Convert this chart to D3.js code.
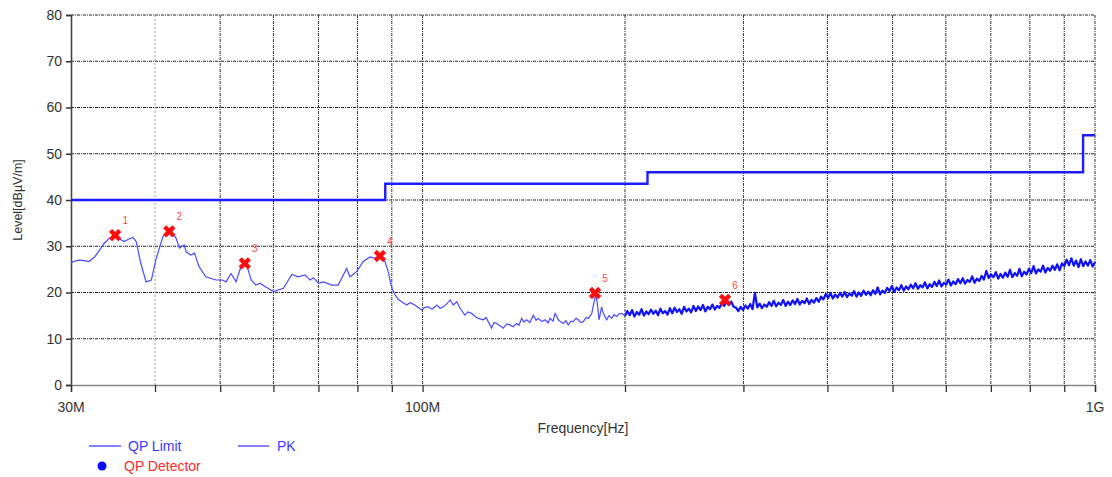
<!DOCTYPE html>
<html>
<head>
<meta charset="utf-8">
<script src="https://cdn.jsdelivr.net/npm/d3@7"></script>
<style>
  html, body { margin: 0; padding: 0; background: #fff; }
  svg { display: block; font-family: "Liberation Sans", Arial, sans-serif; }
</style>
</head>
<body>
<svg id="chart" width="1112" height="477"></svg>
<script>
// ---------------- DATA ----------------
const yTicks = [0, 10, 20, 30, 40, 50, 60, 70, 80];
const xGridFreqs = [40, 50, 60, 70, 80, 90, 100, 200, 300, 400, 500, 600, 700, 800, 900, 1000];
const xTickLabels = [[30, "30M"], [100, "100M"], [1000, "1G"]];

// QP limit (MHz, dBµV/m) – step function
const limitFreq  = [30, 88, 88, 216, 216, 960, 960, 1000];
const limitLevel = [40, 40, 43.5, 43.5, 46, 46, 54, 54];

// PK trace, low band: [MHz, dBµV/m]
const pkLow = [
  [30.0,26.4],[30.4,26.8],[30.9,27.0],[31.4,26.9],[31.9,26.7],[32.5,27.6],[33.1,29.2],[33.6,30.6],
  [34.2,31.7],[34.9,32.2],[35.6,31.4],[36.0,31.0],[36.5,31.5],[37.1,31.9],[37.5,31.0],[38.1,26.3],
  [38.8,22.3],[39.5,22.7],[40.1,27.0],[41.1,32.1],[41.8,33.2],[42.4,33.0],[43.0,31.7],[43.5,29.6],
  [44.2,30.3],[44.5,28.8],[45.2,28.1],[45.8,28.5],[46.5,25.6],[47.6,23.4],[49.3,22.7],[50.4,22.7],
  [51.0,22.3],[51.9,24.1],[52.8,22.3],[53.7,25.6],[54.4,26.5],[55.0,25.0],[55.6,22.7],[56.5,21.6],
  [57.3,22.0],[58.3,21.3],[60.0,20.2],[62.1,20.9],[63.9,23.9],[65.3,23.4],[66.9,23.8],[68.0,22.7],
  [68.8,23.2],[70.0,22.0],[71.2,22.3],[73.3,21.6],[74.9,21.6],[75.8,23.1],[77.1,25.2],[78.0,23.4],
  [79.8,24.5],[81.6,26.7],[83.5,27.7],[85.0,27.4],[86.4,27.9],[87.9,26.7],[88.9,24.5],[90.0,20.9],
  [91.0,19.5],[91.9,18.6],[93.1,18.0],[94.7,17.3],[95.8,17.8],[97.4,17.3],[99.7,16.2],[100.8,16.8],
  [102.0,16.9],[103.3,16.4],[105.0,17.3],[106.2,16.6],[107.4,16.9],[108.7,17.6],[109.9,18.4],[111.1,17.3],
  [112.4,18.0],[113.7,16.6],[115.6,15.1],[116.8,15.8],[118.3,15.5],[119.7,14.8],[121.0,14.4],[123.1,14.1],
  [124.3,14.6],[125.2,13.7],[126.7,12.3],[127.7,13.5],[128.9,13.3],[130.4,12.8],[131.8,12.3],[133.4,13.2],
  [134.9,13.0],[136.3,12.6],[138.0,13.3],[139.1,12.9],[140.4,14.4],[141.5,13.6],[142.8,14.1],[144.4,13.5],
  [146.1,15.1],[147.5,14.0],[148.6,14.4],[150.4,13.7],[152.1,14.1],[153.7,13.4],[154.7,14.4],[156.3,13.8],
  [157.4,15.5],[159.2,14.1],[160.6,13.6],[161.9,13.3],[163.4,13.9],[164.7,13.0],[166.2,13.8],[167.5,13.7],
  [169.1,14.4],[170.4,14.1],[172.0,13.5],[173.4,13.7],[175.0,14.6],[176.4,14.4],[178.5,15.5],[179.9,18.0],
  [180.9,19.6],[181.9,17.7],[183.0,14.1],[184.6,16.9],[185.7,15.5],[187.8,14.1],[189.3,15.0],[191.1,14.4],
  [192.6,15.2],[194.4,14.8],[195.9,15.4],[197.8,15.5]
];

// PK trace, high band: sweep points evenly spaced (log) from 200 MHz to 1 GHz
const pkSweepStart = 200, pkSweepStop = 1000;
const pkSweepLevels = [
  14.9,16.0,15.1,16.2,14.8,15.8,15.2,16.4,15.0,15.9,
  15.3,16.3,15.4,16.1,15.1,16.5,15.5,16.0,15.2,16.6,
  15.5,16.7,15.8,16.4,15.4,16.9,15.9,16.5,15.7,17.1,
  16.0,17.0,16.2,17.3,15.9,16.9,16.4,17.4,16.3,17.1,
  16.7,17.7,17.1,18.1,17.3,18.0,16.9,16.7,16.0,16.9,
  16.2,17.2,16.5,17.5,16.4,19.9,16.8,17.6,16.6,17.4,
  16.9,17.9,17.1,18.2,17.0,17.8,17.3,18.4,17.1,18.0,
  17.3,18.3,17.5,18.6,17.4,18.2,17.7,18.7,17.5,18.4,
  17.8,18.8,18.0,19.1,18.5,19.7,18.8,19.9,18.7,19.6,
  18.9,19.9,19.1,20.1,19.0,19.8,19.3,20.3,19.1,20.0,
  19.3,20.4,19.5,20.2,19.4,20.5,19.7,21.1,19.6,20.4,
  19.9,21.0,20.3,21.4,20.1,21.1,20.5,21.6,20.4,21.3,
  20.7,21.7,20.9,22.0,20.8,21.6,21.1,22.2,20.9,21.8,
  21.2,22.3,21.4,22.6,21.3,22.1,21.7,22.8,21.5,22.4,
  21.8,22.9,22.0,23.1,21.9,22.7,22.3,23.5,22.1,23.0,
  22.5,23.6,22.8,24.7,23.1,23.9,23.3,24.4,23.0,24.0,
  23.2,24.3,23.4,24.9,23.3,24.2,23.6,25.1,23.5,24.5,
  23.9,25.1,24.2,25.7,24.1,25.0,24.5,25.8,24.3,25.3,
  24.7,25.8,24.9,26.1,24.8,26.3,25.7,27.1,25.9,27.4,
  25.8,26.9,25.5,27.2,25.7,26.7,25.8,27.0,25.6,26.6
];

// QP detector markers
const markerIds    = ["1", "2", "3", "4", "5", "6"];
const markerFreq   = [34.9, 42.0, 54.4, 86.4, 180.5, 281.7];
const markerLevel  = [32.4, 33.2, 26.3, 27.9, 19.9, 18.4];

// ---------------- CHART ----------------
const svg = d3.select("#chart");
const M = { left: 71, right: 1095, top: 15, bottom: 385 };

const x = d3.scaleLog().domain([30, 1000]).range([M.left, M.right]);
const y = d3.scaleLinear().domain([0, 80]).range([M.bottom, M.top]);

// Gridlines
const grid = svg.append("g");
grid.selectAll("line.h").data(yTicks.filter(d => d > 0)).join("line")
  .attr("x1", M.left).attr("x2", M.right)
  .attr("y1", d => y(d)).attr("y2", d => y(d))
  .attr("stroke", "#222").attr("stroke-width", 1)
  .attr("stroke-dasharray", "3,1,1,1");
grid.selectAll("line.v").data(xGridFreqs).join("line")
  .attr("x1", d => x(d)).attr("x2", d => x(d))
  .attr("y1", M.top).attr("y2", M.bottom)
  .attr("stroke", d => (d === 40 ? "#999" : "#333")).attr("stroke-width", 1)
  .attr("stroke-dasharray", d => (d === 40 ? "2,2" : "3,1,1,1"));

// Left axis
const yAxis = d3.axisLeft(y).tickValues(yTicks).tickSize(5).tickPadding(4);
const gy = svg.append("g").attr("transform", `translate(${M.left},0)`).call(yAxis);
gy.select(".domain").attr("stroke", "#444").attr("stroke-width", 1.6);
gy.selectAll(".tick line").attr("stroke", "#333").attr("stroke-width", 1.5);
gy.selectAll(".tick text").attr("fill", "#333").style("font-size", "14px")
  .style("font-family", "'Liberation Sans', Arial, sans-serif");

// Bottom axis
const xAxis = d3.axisBottom(x).tickValues([30].concat(xGridFreqs)).tickSize(7).tickFormat("");
const gx = svg.append("g").attr("transform", `translate(0,${M.bottom})`).call(xAxis);
gx.select(".domain").attr("stroke", "#888").attr("stroke-width", 1.6);
gx.selectAll(".tick line").attr("stroke", "#333").attr("stroke-width", 1.3);
svg.append("g").selectAll("text").data(xTickLabels).join("text")
  .attr("x", d => x(d[0])).attr("y", 412)
  .attr("text-anchor", "middle")
  .attr("fill", "#333").style("font-size", "14px")
  .text(d => d[1]);

// Axis titles
svg.append("text")
  .attr("transform", `translate(22,${(M.top + M.bottom) / 2}) rotate(-90)`)
  .attr("text-anchor", "middle").attr("fill", "#333").style("font-size", "12.5px")
  .text("Level[dBµV/m]");
svg.append("text")
  .attr("x", 583).attr("y", 433).attr("text-anchor", "middle")
  .attr("fill", "#333").style("font-size", "14px")
  .text("Frequency[Hz]");

// Limit line
const limitPts = limitFreq.map((f, i) => [f, limitLevel[i]]);
svg.append("path").datum(limitPts)
  .attr("d", d3.line().x(d => x(d[0])).y(d => y(d[1])))
  .attr("fill", "none").attr("stroke", "#1c1cff").attr("stroke-width", 2.4);

// PK trace
const nSweep = pkSweepLevels.length;
const sweepPts = pkSweepLevels.map((v, i) => [
  pkSweepStart * Math.pow(pkSweepStop / pkSweepStart, i / (nSweep - 1)), v]);
const pkLine = d3.line().x(d => x(d[0])).y(d => y(d[1]));
svg.append("path").datum(pkLow.concat([sweepPts[0]]))
  .attr("d", pkLine).attr("fill", "none")
  .attr("stroke", "#4a4aff").attr("stroke-width", 1.2);
svg.append("path").datum(sweepPts)
  .attr("d", pkLine).attr("fill", "none")
  .attr("stroke", "#1010ff").attr("stroke-width", 2.2)
  .attr("stroke-linejoin", "round");

// Markers
const mk = svg.append("g");
const sym = d3.symbol().type(d3.symbolCross).size(95);
markerIds.forEach((id, i) => {
  const mx = x(markerFreq[i]), my = y(markerLevel[i]);
  mk.append("path").attr("d", sym())
    .attr("transform", `translate(${mx},${my}) rotate(45)`)
    .attr("fill", "#ff0d0d");
  mk.append("text").attr("x", mx + 10).attr("y", my - 11)
    .attr("text-anchor", "middle").attr("fill", "#ff4a4a")
    .style("font-size", "10px").text(id);
});

// Legend
const lg = svg.append("g");
lg.append("line").attr("x1", 89).attr("x2", 121).attr("y1", 446).attr("y2", 446)
  .attr("stroke", "#3030ff").attr("stroke-width", 1.2);
lg.append("text").attr("x", 128).attr("y", 451).attr("fill", "#3a3aff")
  .style("font-size", "14px").text("QP Limit");
lg.append("line").attr("x1", 238).attr("x2", 269).attr("y1", 446).attr("y2", 446)
  .attr("stroke", "#3030ff").attr("stroke-width", 1.2);
lg.append("text").attr("x", 277).attr("y", 451).attr("fill", "#3a3aff")
  .style("font-size", "14px").text("PK");
lg.append("circle").attr("cx", 102).attr("cy", 466).attr("r", 4.5).attr("fill", "#0a0aff");
lg.append("text").attr("x", 124).attr("y", 471).attr("fill", "#ff2a2a")
  .style("font-size", "14px").text("QP Detector");
</script>
</body>
</html>
